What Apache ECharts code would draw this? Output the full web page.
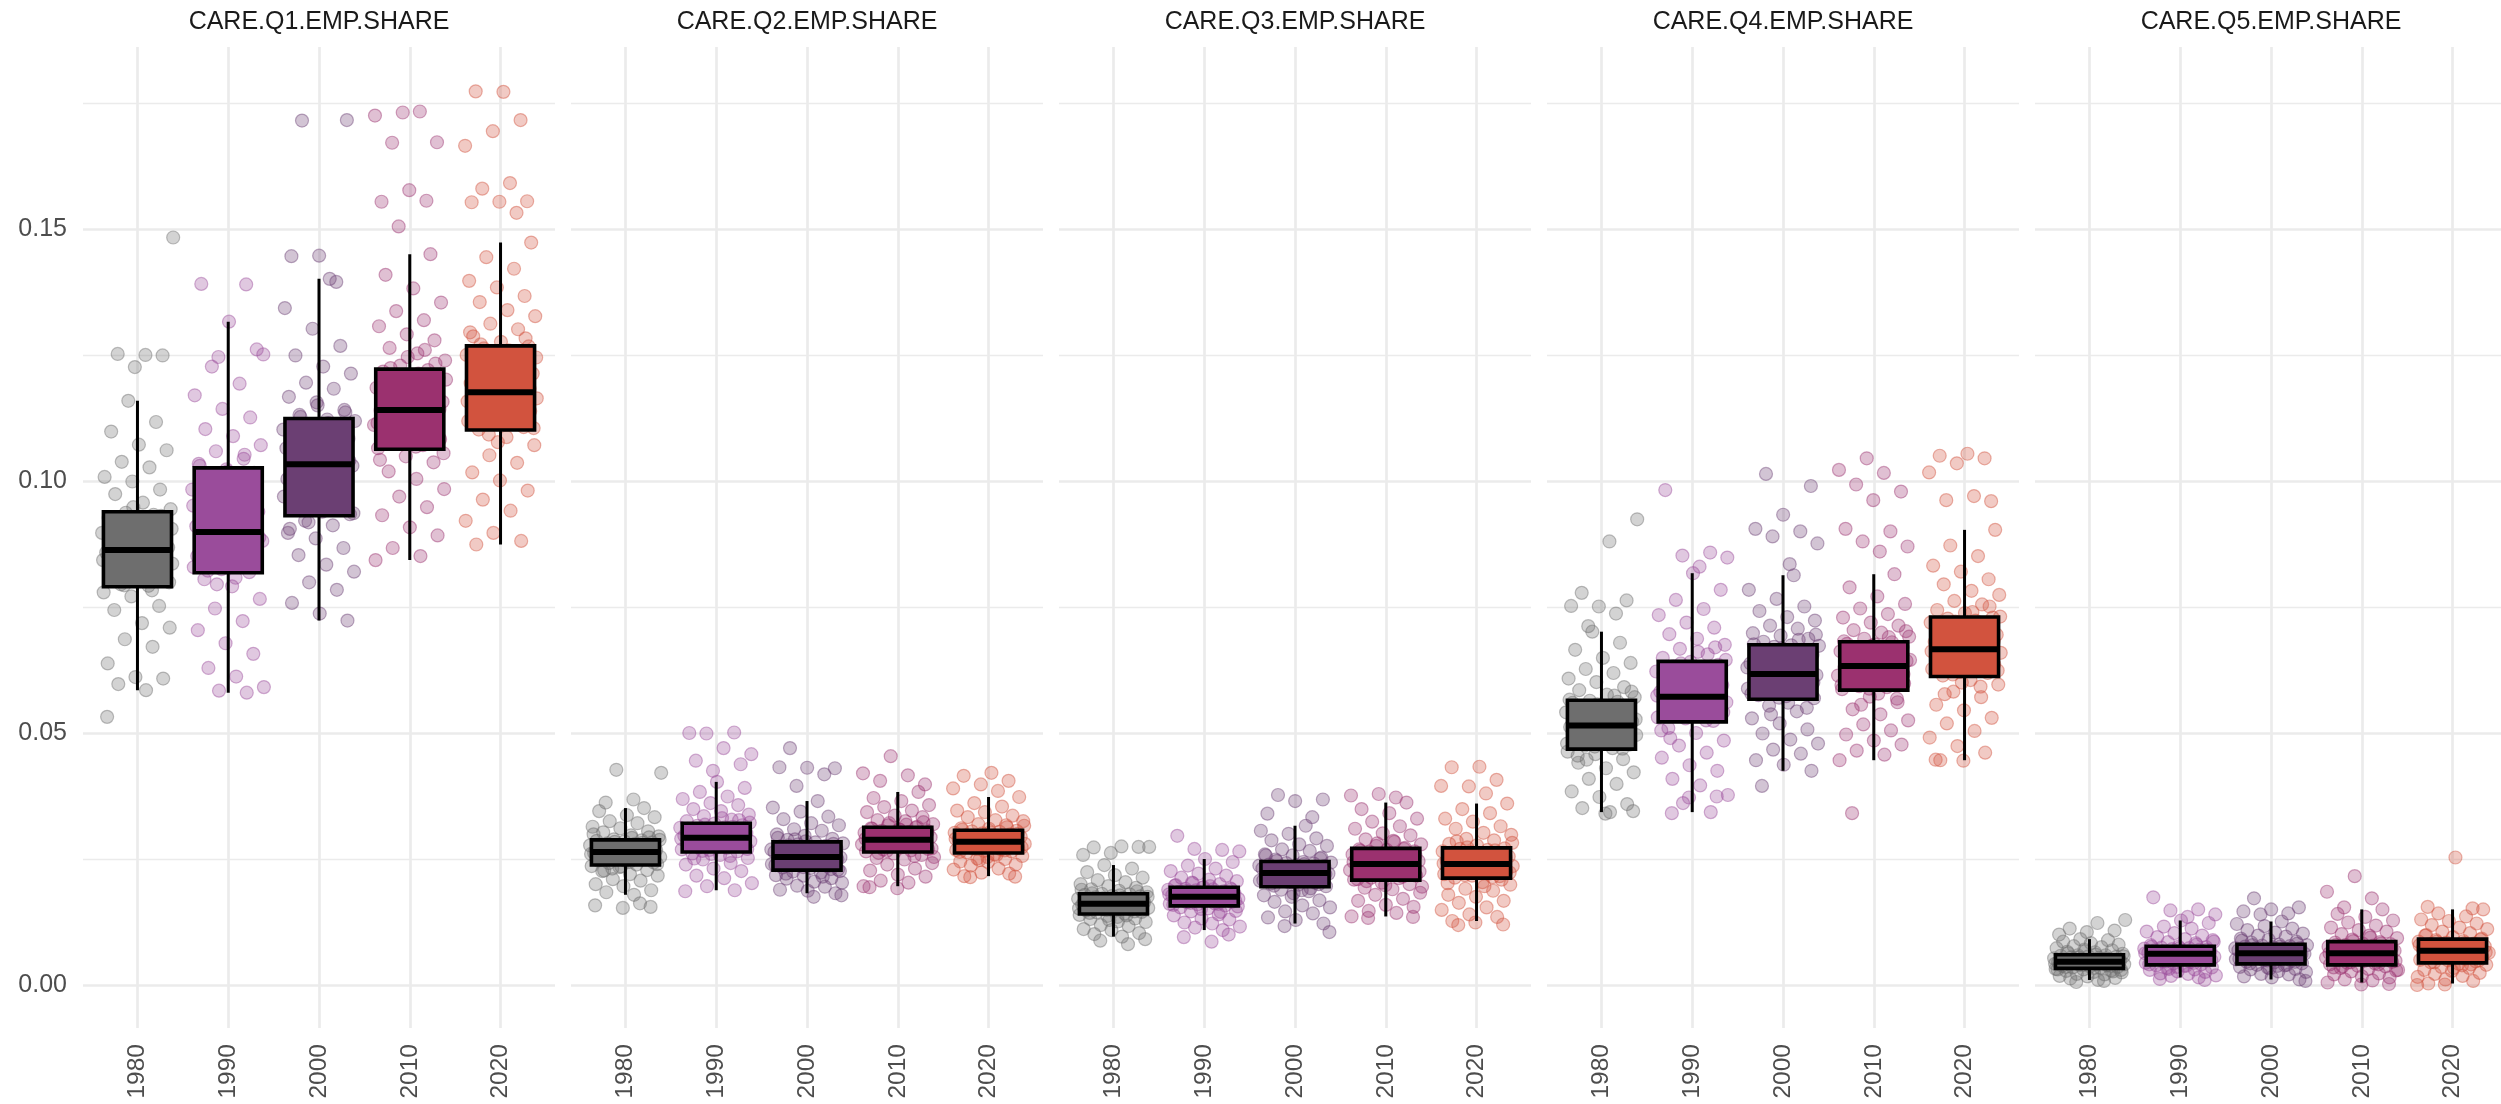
<!DOCTYPE html>
<html lang="en">
<head>
<meta charset="UTF-8">
<title>CARE EMP SHARE</title>
<style>
  html, body { margin: 0; padding: 0; background: #fff; }
  #main { width: 2501px; height: 1104px; }
</style>
</head>
<body>
<div id="main"></div>
<script src="https://cdn.jsdelivr.net/npm/echarts@6/dist/echarts.min.js"></script>
<script>
// categories
var years = ['1980', '1990', '2000', '2010', '2020'];
var panelTitles = ['CARE.Q1.EMP.SHARE', 'CARE.Q2.EMP.SHARE', 'CARE.Q3.EMP.SHARE', 'CARE.Q4.EMP.SHARE', 'CARE.Q5.EMP.SHARE'];
var yTicks = [0, 0.05, 0.10, 0.15];
var yearColors = ['#6e6e6e', '#9a4c9b', '#6b3f73', '#9b316f', '#d2533e'];

// box stats per year: [lower whisker, Q1, median, Q3, upper whisker]
var q1Box = [[0.0585, 0.0790, 0.0863, 0.0939, 0.1159], [0.0580, 0.0818, 0.0899, 0.1026, 0.1316], [0.0723, 0.0931, 0.1033, 0.1124, 0.1401], [0.0843, 0.1063, 0.1141, 0.1222, 0.1450], [0.0874, 0.1101, 0.1176, 0.1268, 0.1473]];
var q2Box = [[0.0179, 0.0238, 0.0264, 0.0288, 0.0351], [0.0188, 0.0264, 0.0292, 0.0321, 0.0403], [0.0182, 0.0228, 0.0254, 0.0284, 0.0365], [0.0196, 0.0264, 0.0288, 0.0313, 0.0383], [0.0216, 0.0262, 0.0284, 0.0307, 0.0373]];
var q3Box = [[0.0096, 0.0141, 0.0161, 0.0181, 0.0238], [0.0109, 0.0157, 0.0175, 0.0194, 0.0250], [0.0122, 0.0195, 0.0222, 0.0245, 0.0316], [0.0136, 0.0208, 0.0240, 0.0271, 0.0362], [0.0127, 0.0212, 0.0240, 0.0272, 0.0360]];
var q4Box = [[0.0343, 0.0468, 0.0515, 0.0565, 0.0701], [0.0343, 0.0522, 0.0572, 0.0642, 0.0817], [0.0425, 0.0567, 0.0617, 0.0675, 0.0813], [0.0446, 0.0585, 0.0633, 0.0681, 0.0815], [0.0446, 0.0612, 0.0666, 0.0730, 0.0903]];
var q5Box = [[0.0010, 0.0033, 0.0046, 0.0060, 0.0091], [0.0015, 0.0040, 0.0062, 0.0077, 0.0128], [0.0011, 0.0042, 0.0063, 0.0081, 0.0126], [0.0005, 0.0040, 0.0063, 0.0086, 0.0150], [0.0003, 0.0044, 0.0068, 0.0091, 0.0150]];

var q1Pts = [
  [.0585,.0597,.0608,.0611,.0638,.0671,.0686,.0709,.0718,.0744,.0752,.0771,.0779,.0792,.0795,.0803,.0811,.0813,.0822,.0827,.0836,.0839,.0846,.0851,.0853,.0858,.0861,.0866,.0868,.0874,.0878,.0885,.0889,.0897,.0901,.0909,.0914,.0922,.0926,.0933,.0937,.0944,.0957,.0974,.0983,.0999,.1008,.1027,.1038,.1061,.1072,.1098,.1117,.1159,.1483,.1250,.1252,.1249,.1226,.0532,
   .0783,.0793,.0799,.0806,.0817,.0824,.0831,.0843,.0849,.0856,.0865,.0871,.0881,.0887,.0894,.0905,.0912,.0919,.0931,.0948],
  [.0580,.0584,.0591,.0612,.0629,.0657,.0678,.0704,.0722,.0747,.0766,.0791,.0805,.0819,.0825,.0829,.0837,.0843,.0847,.0856,.0860,.0868,.0873,.0881,.0885,.0893,.0896,.0903,.0910,.0922,.0927,.0939,.0946,.0958,.0963,.0977,.0983,.0995,.1002,.1016,.1023,.1034,.1044,.1059,.1071,.1089,.1103,.1126,.1143,.1170,.1193,.1227,.1261,.1316,.1391,.1390,.1246,.1251,
   .0808,.0822,.0833,.0845,.0851,.0863,.0876,.0888,.0898,.0906,.0917,.0933,.0951,.0969,.0988,.1008,.1019,.1030,.1052,.0795],
  [.0723,.0737,.0758,.0784,.0799,.0820,.0834,.0853,.0867,.0886,.0897,.0912,.0921,.0934,.0939,.0949,.0953,.0964,.0969,.0979,.0984,.0994,.0999,.1009,.1015,.1025,.1030,.1037,.1042,.1051,.1056,.1065,.1070,.1079,.1084,.1093,.1098,.1107,.1111,.1119,.1122,.1131,.1141,.1156,.1167,.1183,.1195,.1213,.1227,.1249,.1268,.1302,.1343,.1401,.1715,.1716,.1447,.1446,.1395,
   .0918,.0936,.0945,.0958,.0973,.0988,.1004,.1020,.1028,.1040,.1047,.1061,.1074,.1088,.1102,.1115,.1127,.1136,.1150,.0905],
  [.0843,.0851,.0867,.0892,.0908,.0932,.0948,.0969,.0984,.1004,.1019,.1037,.1049,.1065,.1071,.1075,.1083,.1087,.1095,.1099,.1107,.1111,.1119,.1123,.1131,.1134,.1140,.1145,.1149,.1157,.1161,.1169,.1173,.1181,.1185,.1193,.1197,.1205,.1209,.1217,.1220,.1229,.1239,.1253,.1264,.1279,.1291,.1307,.1319,.1337,.1354,.1382,.1409,.1450,.1731,.1725,.1733,.1671,.1672,.1577,.1554,.1556,.1505,
   .1055,.1068,.1079,.1091,.1103,.1115,.1127,.1137,.1143,.1153,.1165,.1177,.1189,.1201,.1213,.1224,.1233,.1246,.1042,.1260],
  [.0874,.0881,.0897,.0921,.0941,.0963,.0981,.1001,.1017,.1036,.1051,.1071,.1087,.1102,.1107,.1115,.1119,.1127,.1131,.1139,.1143,.1151,.1154,.1161,.1164,.1171,.1174,.1180,.1185,.1194,.1199,.1208,.1213,.1222,.1227,.1236,.1241,.1250,.1255,.1263,.1267,.1276,.1287,.1301,.1312,.1327,.1339,.1355,.1367,.1384,.1397,.1421,.1444,.1473,.1772,.1773,.1716,.1694,.1665,.1591,.1580,.1555,.1554,.1553,.1532,
   .1092,.1105,.1112,.1123,.1135,.1147,.1158,.1168,.1177,.1183,.1190,.1204,.1217,.1231,.1245,.1259,.1271,.1283,.1077,.1295]
];
var q2Pts = [
  [.0179,.0184,.0188,.0196,.0200,.0207,.0210,.0217,.0220,.0226,.0228,.0234,.0236,.0239,.0242,.0243,.0246,.0247,.0250,.0251,.0254,.0255,.0258,.0259,.0261,.0262,.0263,.0265,.0268,.0269,.0272,.0273,.0276,.0277,.0280,.0281,.0283,.0285,.0286,.0287,.0289,.0295,.0297,.0303,.0305,.0311,.0314,.0321,.0325,.0333,.0337,.0345,.0351,.0427,.0421,.0368,.0362,.0155,.0153,.0158,.0162,
   .0231,.0240,.0244,.0248,.0252,.0256,.0260,.0264,.0266,.0270,.0274,.0278,.0282,.0284,.0288,.0292,.0227,.0293,.0235,.0299],
  [.0188,.0196,.0202,.0212,.0217,.0226,.0231,.0239,.0242,.0249,.0252,.0258,.0261,.0265,.0268,.0269,.0272,.0273,.0276,.0277,.0280,.0281,.0284,.0285,.0288,.0289,.0291,.0293,.0296,.0297,.0300,.0301,.0304,.0305,.0308,.0309,.0312,.0313,.0316,.0317,.0320,.0325,.0328,.0335,.0338,.0345,.0349,.0357,.0361,.0369,.0374,.0383,.0391,.0403,.0500,.0501,.0499,.0458,.0470,.0445,.0438,.0425,.0186,
   .0256,.0266,.0270,.0274,.0278,.0282,.0286,.0290,.0294,.0298,.0302,.0306,.0310,.0314,.0318,.0322,.0331,.0251,.0327,.0260],
  [.0182,.0187,.0189,.0195,.0197,.0203,.0205,.0211,.0212,.0217,.0218,.0223,.0225,.0229,.0232,.0233,.0236,.0237,.0240,.0241,.0244,.0245,.0248,.0249,.0251,.0252,.0253,.0256,.0259,.0260,.0263,.0264,.0267,.0268,.0271,.0272,.0275,.0276,.0279,.0281,.0283,.0288,.0290,.0296,.0299,.0306,.0309,.0317,.0321,.0329,.0334,.0344,.0352,.0365,.0470,.0430,.0431,.0432,.0418,.0395,.0178,.0175,
   .0221,.0230,.0234,.0238,.0242,.0246,.0250,.0254,.0257,.0261,.0265,.0269,.0273,.0277,.0280,.0285,.0292,.0215,.0289,.0226],
  [.0196,.0203,.0207,.0215,.0219,.0227,.0231,.0239,.0242,.0249,.0252,.0258,.0261,.0265,.0267,.0269,.0270,.0273,.0274,.0276,.0278,.0279,.0281,.0283,.0284,.0286,.0287,.0289,.0292,.0293,.0295,.0297,.0298,.0301,.0302,.0304,.0306,.0307,.0309,.0311,.0312,.0317,.0319,.0325,.0327,.0333,.0336,.0343,.0346,.0353,.0357,.0365,.0371,.0383,.0454,.0420,.0416,.0405,.0398,.0192,.0194,
   .0256,.0266,.0271,.0275,.0279,.0282,.0285,.0290,.0294,.0299,.0303,.0308,.0310,.0314,.0321,.0254,.0318,.0262,.0323,.0288],
  [.0216,.0221,.0223,.0229,.0231,.0237,.0239,.0244,.0245,.0250,.0251,.0256,.0259,.0263,.0265,.0266,.0268,.0269,.0271,.0272,.0274,.0275,.0277,.0278,.0280,.0281,.0283,.0285,.0288,.0289,.0291,.0292,.0294,.0296,.0297,.0299,.0301,.0302,.0304,.0305,.0306,.0310,.0311,.0317,.0319,.0325,.0327,.0333,.0336,.0343,.0346,.0354,.0361,.0373,.0421,.0415,.0405,.0398,.0390,.0385,.0214,.0215,
   .0254,.0264,.0267,.0270,.0273,.0276,.0279,.0282,.0286,.0290,.0293,.0296,.0300,.0303,.0308,.0313,.0248,.0316,.0258,.0284]
];
var q3Pts = [
  [.0096,.0101,.0103,.0109,.0111,.0117,.0119,.0125,.0126,.0131,.0132,.0137,.0139,.0142,.0144,.0145,.0147,.0148,.0150,.0151,.0153,.0154,.0156,.0157,.0158,.0159,.0160,.0162,.0164,.0165,.0167,.0168,.0170,.0171,.0173,.0174,.0176,.0177,.0179,.0180,.0181,.0184,.0187,.0190,.0193,.0196,.0200,.0204,.0208,.0213,.0218,.0224,.0231,.0238,.0274,.0275,.0273,.0274,.0262,.0258,.0081,.0088,.0091,
   .0135,.0143,.0146,.0149,.0152,.0155,.0158,.0161,.0163,.0166,.0169,.0172,.0175,.0178,.0182,.0186,.0129,.0189,.0138,.0160],
  [.0109,.0114,.0116,.0122,.0124,.0130,.0132,.0138,.0140,.0146,.0147,.0152,.0154,.0158,.0160,.0161,.0162,.0164,.0165,.0166,.0168,.0169,.0170,.0171,.0172,.0173,.0174,.0176,.0178,.0179,.0181,.0182,.0183,.0185,.0186,.0188,.0189,.0190,.0191,.0192,.0193,.0197,.0200,.0203,.0206,.0209,.0213,.0217,.0221,.0226,.0231,.0237,.0244,.0250,.0296,.0268,.0270,.0265,.0086,.0095,.0100,
   .0151,.0159,.0161,.0163,.0167,.0170,.0173,.0175,.0177,.0180,.0184,.0187,.0190,.0194,.0198,.0145,.0202,.0156,.0196,.0174],
  [.0122,.0129,.0134,.0142,.0146,.0154,.0158,.0165,.0168,.0175,.0178,.0186,.0189,.0196,.0199,.0201,.0203,.0205,.0207,.0209,.0211,.0213,.0215,.0217,.0219,.0220,.0221,.0224,.0227,.0228,.0230,.0231,.0233,.0235,.0236,.0238,.0239,.0241,.0242,.0243,.0244,.0249,.0251,.0257,.0259,.0266,.0269,.0276,.0279,.0287,.0291,.0300,.0306,.0316,.0377,.0368,.0365,.0340,.0333,.0117,.0105,
   .0188,.0197,.0200,.0204,.0208,.0212,.0216,.0220,.0223,.0225,.0229,.0232,.0237,.0240,.0246,.0253,.0182,.0257,.0192,.0222],
  [.0136,.0143,.0147,.0155,.0159,.0167,.0171,.0179,.0183,.0190,.0193,.0200,.0203,.0209,.0212,.0213,.0217,.0218,.0222,.0223,.0227,.0228,.0231,.0232,.0236,.0237,.0239,.0242,.0245,.0246,.0250,.0251,.0254,.0255,.0259,.0260,.0264,.0265,.0268,.0269,.0270,.0276,.0279,.0286,.0289,.0297,.0301,.0310,.0315,.0324,.0330,.0341,.0349,.0362,.0379,.0376,.0372,.0133,.0135,
   .0198,.0210,.0215,.0220,.0225,.0230,.0234,.0238,.0241,.0244,.0248,.0252,.0257,.0262,.0266,.0272,.0281,.0195,.0284,.0206],
  [.0127,.0135,.0140,.0149,.0154,.0163,.0167,.0175,.0179,.0187,.0191,.0199,.0204,.0213,.0216,.0217,.0220,.0221,.0224,.0225,.0228,.0229,.0232,.0233,.0236,.0237,.0239,.0242,.0245,.0246,.0250,.0251,.0255,.0256,.0259,.0261,.0264,.0265,.0268,.0270,.0271,.0277,.0280,.0287,.0290,.0298,.0302,.0310,.0315,.0324,.0330,.0341,.0349,.0360,.0433,.0432,.0407,.0394,.0395,.0380,.0119,.0120,.0124,
   .0202,.0214,.0218,.0223,.0227,.0231,.0235,.0238,.0241,.0244,.0248,.0253,.0257,.0262,.0267,.0273,.0282,.0196,.0285,.0209]
];
var q4Pts = [
  [.0343,.0351,.0359,.0373,.0384,.0399,.0409,.0422,.0430,.0441,.0448,.0458,.0463,.0470,.0475,.0477,.0482,.0484,.0489,.0491,.0496,.0498,.0503,.0505,.0510,.0512,.0514,.0518,.0523,.0525,.0531,.0533,.0539,.0541,.0546,.0548,.0553,.0555,.0560,.0562,.0564,.0571,.0576,.0585,.0591,.0601,.0608,.0619,.0627,.0639,.0649,.0665,.0679,.0701,.0924,.0880,.0778,.0763,.0751,.0752,.0737,.0712,.0345,.0340,
   .0455,.0469,.0473,.0479,.0486,.0493,.0500,.0507,.0513,.0516,.0520,.0527,.0535,.0543,.0550,.0557,.0566,.0574,.0447,.0582],
  [.0343,.0361,.0377,.0396,.0409,.0425,.0436,.0451,.0461,.0475,.0485,.0500,.0510,.0524,.0529,.0531,.0537,.0539,.0544,.0546,.0552,.0553,.0559,.0561,.0566,.0568,.0571,.0576,.0582,.0585,.0592,.0595,.0602,.0605,.0612,.0615,.0622,.0625,.0632,.0635,.0641,.0649,.0656,.0667,.0675,.0687,.0696,.0709,.0719,.0734,.0746,.0764,.0784,.0817,.0982,.0858,.0852,.0848,.0830,.0341,.0374,.0372,
   .0505,.0525,.0534,.0541,.0549,.0557,.0564,.0570,.0574,.0579,.0588,.0598,.0608,.0618,.0628,.0638,.0645,.0661,.0490,.0670],
  [.0425,.0437,.0446,.0459,.0467,.0479,.0487,.0499,.0507,.0519,.0529,.0543,.0554,.0569,.0573,.0575,.0581,.0582,.0588,.0590,.0595,.0597,.0603,.0604,.0610,.0612,.0615,.0621,.0627,.0629,.0636,.0638,.0646,.0648,.0655,.0657,.0663,.0665,.0671,.0673,.0674,.0681,.0687,.0693,.0698,.0707,.0713,.0723,.0730,.0742,.0751,.0766,.0784,.0813,.1014,.0990,.0933,.0905,.0900,.0890,.0876,.0835,.0395,
   .0550,.0570,.0578,.0585,.0592,.0600,.0607,.0613,.0618,.0623,.0630,.0640,.0651,.0660,.0668,.0676,.0685,.0537,.0695,.0560],
  [.0446,.0457,.0465,.0477,.0485,.0497,.0505,.0517,.0525,.0537,.0547,.0561,.0572,.0587,.0591,.0593,.0598,.0600,.0605,.0607,.0612,.0614,.0619,.0621,.0626,.0628,.0631,.0636,.0641,.0643,.0648,.0649,.0655,.0656,.0662,.0663,.0669,.0670,.0676,.0677,.0680,.0687,.0691,.0699,.0704,.0713,.0719,.0729,.0736,.0747,.0756,.0771,.0789,.0815,.1045,.1022,.1016,.0993,.0979,.0962,.0905,.0900,.0880,.0870,.0860,.0341,
   .0568,.0588,.0595,.0603,.0610,.0617,.0624,.0629,.0634,.0638,.0645,.0652,.0659,.0666,.0673,.0682,.0690,.0556,.0702,.0578],
  [.0446,.0461,.0474,.0491,.0504,.0519,.0530,.0545,.0556,.0571,.0582,.0596,.0605,.0614,.0619,.0621,.0627,.0629,.0635,.0637,.0643,.0645,.0651,.0653,.0659,.0660,.0664,.0671,.0676,.0681,.0685,.0690,.0695,.0700,.0705,.0710,.0715,.0719,.0723,.0727,.0729,.0738,.0744,.0755,.0762,.0774,.0782,.0795,.0805,.0820,.0832,.0851,.0872,.0903,.1054,.1050,.1045,.1035,.1017,.0970,.0962,.0960,.0445,.0447,
   .0592,.0616,.0624,.0632,.0640,.0648,.0656,.0662,.0668,.0673,.0682,.0692,.0702,.0712,.0721,.0731,.0740,.0577,.0751,.0600]
];
var q5Pts = [
  [.0010,.0013,.0014,.0017,.0018,.0021,.0022,.0025,.0026,.0028,.0029,.0031,.0032,.0034,.0035,.0036,.0037,.0038,.0039,.0040,.0041,.0041,.0042,.0043,.0044,.0045,.0045,.0047,.0048,.0049,.0050,.0051,.0052,.0053,.0054,.0055,.0056,.0057,.0058,.0059,.0059,.0062,.0065,.0066,.0069,.0070,.0073,.0075,.0077,.0080,.0083,.0086,.0089,.0091,.0129,.0123,.0112,.0108,.0105,.0100,.0008,.0006,
   .0030,.0034,.0036,.0038,.0040,.0042,.0044,.0046,.0047,.0049,.0051,.0053,.0055,.0057,.0060,.0063,.0027,.0067,.0031,.0044],
  [.0015,.0018,.0019,.0022,.0023,.0026,.0027,.0030,.0031,.0034,.0035,.0038,.0039,.0041,.0043,.0044,.0046,.0047,.0049,.0050,.0052,.0053,.0055,.0056,.0058,.0059,.0061,.0063,.0064,.0065,.0066,.0067,.0068,.0069,.0070,.0071,.0072,.0073,.0074,.0075,.0076,.0079,.0083,.0085,.0089,.0091,.0095,.0098,.0103,.0106,.0112,.0116,.0123,.0128,.0174,.0150,.0148,.0140,.0135,.0012,.0010,
   .0036,.0041,.0044,.0047,.0050,.0053,.0056,.0059,.0061,.0063,.0065,.0067,.0070,.0073,.0076,.0080,.0032,.0086,.0038,.0060],
  [.0011,.0015,.0017,.0021,.0022,.0026,.0027,.0031,.0032,.0035,.0036,.0039,.0040,.0043,.0045,.0046,.0048,.0049,.0051,.0052,.0054,.0055,.0057,.0058,.0060,.0061,.0062,.0064,.0065,.0067,.0068,.0069,.0071,.0072,.0073,.0075,.0076,.0077,.0078,.0079,.0080,.0084,.0086,.0090,.0092,.0096,.0098,.0102,.0104,.0109,.0112,.0117,.0121,.0126,.0172,.0154,.0150,.0146,.0142,.0140,.0008,
   .0038,.0043,.0046,.0049,.0052,.0055,.0058,.0061,.0063,.0065,.0068,.0070,.0073,.0076,.0079,.0082,.0033,.0088,.0040,.0062],
  [.0005,.0009,.0011,.0015,.0017,.0021,.0023,.0027,.0029,.0032,.0034,.0037,.0038,.0041,.0043,.0044,.0046,.0048,.0049,.0051,.0053,.0054,.0056,.0058,.0059,.0061,.0062,.0064,.0066,.0068,.0069,.0071,.0073,.0074,.0076,.0078,.0079,.0081,.0082,.0084,.0085,.0090,.0093,.0098,.0101,.0106,.0109,.0114,.0118,.0124,.0128,.0135,.0141,.0150,.0216,.0185,.0172,.0154,.0002,.0001,
   .0035,.0041,.0045,.0048,.0052,.0055,.0058,.0061,.0063,.0066,.0069,.0072,.0075,.0079,.0082,.0087,.0030,.0094,.0037,.0063],
  [.0003,.0008,.0011,.0016,.0018,.0022,.0024,.0028,.0030,.0034,.0036,.0040,.0042,.0045,.0047,.0049,.0050,.0052,.0054,.0055,.0057,.0059,.0060,.0062,.0064,.0065,.0067,.0069,.0071,.0072,.0074,.0076,.0077,.0079,.0081,.0082,.0084,.0086,.0087,.0089,.0090,.0095,.0098,.0103,.0106,.0111,.0114,.0119,.0122,.0127,.0130,.0136,.0142,.0150,.0253,.0155,.0152,.0001,.0000,
   .0039,.0045,.0049,.0052,.0056,.0059,.0062,.0065,.0068,.0070,.0073,.0076,.0079,.0083,.0086,.0092,.0034,.0099,.0041,.0068]
];

var boxes = [q1Box, q2Box, q3Box, q4Box, q5Box];
var points = [q1Pts, q2Pts, q3Pts, q4Pts, q5Pts];

// layout (pixels)
var panelLeft = [83, 571, 1059, 1547, 2035];
var panelW = 472;
var unit = panelW / 5.2;          // one category step
var plotTop = 47, plotBottom = 1028;
var yMin = -0.00853, yMax = 0.1861;
var zeroY = 985, pxPerUnit = 5040; // y of 0.00 and px per 1.0
var fontFam = '"Liberation Sans", Arial, Helvetica, sans-serif';

function rgba(hex, a) {
  var n = parseInt(hex.slice(1), 16);
  return 'rgba(' + (n >> 16) + ',' + ((n >> 8) & 255) + ',' + (n & 255) + ',' + a + ')';
}
// horizontal spread of the jittered points
function jitter(i, g) {
  var f = ((i + 1) * 0.6180339887 + g * 0.137) % 1;
  return (f - 0.5) * 0.8;
}

var grid = [], xAxis = [], yAxis = [], series = [], graphic = [];

for (var p = 0; p < 5; p++) {
  // outer grid: horizontal gridlines and y labels, spans 0 .. 0.20
  grid.push({
    left: panelLeft[p], width: panelW,
    top: zeroY - 0.2 * pxPerUnit, height: 0.2 * pxPerUnit,
    outerBoundsMode: 'none', containLabel: false
  });
  xAxis.push({ gridIndex: p, type: 'value', min: 0, max: 1, show: false });
  yAxis.push({
    gridIndex: p, type: 'value', min: 0, max: 0.2, interval: 0.05,
    axisLine: { show: false }, axisTick: { show: false },
    axisLabel: {
      show: p === 0, margin: 16, fontSize: 25, color: '#4d4d4d', fontFamily: fontFam,
      formatter: function (v) { return v > 0.19 ? '' : v.toFixed(2); }
    },
    splitLine: { show: true, lineStyle: { color: '#ebebeb', width: 2.7 } },
    minorTick: { show: false, splitNumber: 2 },
    minorSplitLine: { show: true, lineStyle: { color: '#ebebeb', width: 1.4 } }
  });
}

for (var p = 0; p < 5; p++) {
  var gi = 5 + p;
  // inner grid: from the first to the last category centre
  grid.push({
    left: panelLeft[p] + 0.6 * unit, width: 4 * unit,
    top: plotTop, height: plotBottom - plotTop,
    outerBoundsMode: 'none', containLabel: false
  });
  xAxis.push({
    gridIndex: gi, type: 'value', min: 0, max: 4, interval: 1,
    axisLine: { show: false }, axisTick: { show: false },
    axisLabel: {
      rotate: 90, margin: 16, fontSize: 24.5, color: '#4d4d4d', fontFamily: fontFam,
      formatter: function (v) { return years[v] || ''; }
    },
    splitLine: { show: true, lineStyle: { color: '#ebebeb', width: 2.7 } }
  });
  yAxis.push({ gridIndex: gi, type: 'value', min: yMin, max: yMax, show: false });

  for (var g = 0; g < 5; g++) {
    var vals = points[p][g];
    series.push({
      type: 'scatter', xAxisIndex: gi, yAxisIndex: gi, clip: false,
      symbol: 'circle', symbolSize: 13, silent: true, z: 2,
      itemStyle: {
        color: rgba(yearColors[g], 0.38),
        borderColor: rgba(yearColors[g], 0.55), borderWidth: 1.2
      },
      data: vals.map(function (v, i) { return [g + jitter(i, g), v]; })
    });
  }

  series.push({
    type: 'custom', xAxisIndex: gi, yAxisIndex: gi, z: 3, clip: false, silent: true,
    data: boxes[p].map(function (b, g) { return [g].concat(b); }),
    renderItem: function (params, api) {
      var x = api.value(0);
      var lo = api.coord([x, api.value(1)]);
      var q1 = api.coord([x, api.value(2)]);
      var md = api.coord([x, api.value(3)]);
      var q3 = api.coord([x, api.value(4)]);
      var hi = api.coord([x, api.value(5)]);
      var half = api.size([0.75, 0])[0] / 2;
      return {
        type: 'group',
        children: [
          { type: 'line', shape: { x1: lo[0], y1: lo[1], x2: hi[0], y2: hi[1] },
            style: { stroke: '#000', lineWidth: 3 } },
          { type: 'rect', shape: { x: q3[0] - half, y: q3[1], width: 2 * half, height: q1[1] - q3[1] },
            style: { fill: yearColors[x], stroke: '#000', lineWidth: 3.6 } },
          { type: 'line', shape: { x1: md[0] - half, y1: md[1], x2: md[0] + half, y2: md[1] },
            style: { stroke: '#000', lineWidth: 6 } }
        ]
      };
    }
  });

  graphic.push({
    type: 'text', x: panelLeft[p] + panelW / 2, y: 22, silent: true,
    style: {
      text: panelTitles[p], fill: '#1a1a1a', font: '25px ' + fontFam,
      textAlign: 'center', textVerticalAlign: 'middle'
    }
  });
}

var myChart = echarts.init(document.getElementById('main'));
myChart.setOption({
  animation: false,
  backgroundColor: '#ffffff',
  grid: grid,
  xAxis: xAxis,
  yAxis: yAxis,
  series: series,
  graphic: graphic
});
</script>
</body>
</html>
